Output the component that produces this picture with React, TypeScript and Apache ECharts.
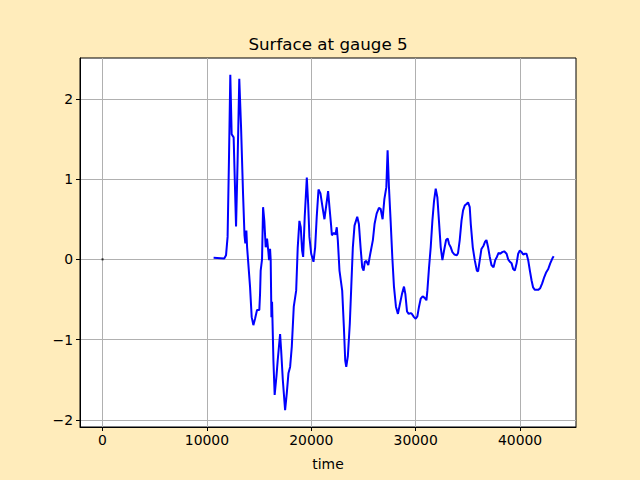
import React, { useEffect, useRef } from "react";
import * as echarts from "echarts";

const times: number[] = [
  10640, 11660, 11830, 11980, 12110, 12240, 12370, 12560, 12790, 12940,
  13100, 13270, 13460, 13600, 13680, 13780, 13850, 14130, 14290, 14450,
  14610, 14800, 15020, 15090, 15150, 15280, 15380, 15500, 15630, 15760,
  15890, 15950, 16050, 16110, 16180, 16240, 16370, 16490, 16660, 16780,
  17010, 17110, 17270, 17490, 17650, 17810, 17970, 18130, 18320, 18550,
  18700, 18860, 18990, 19120, 19220, 19370, 19570, 19700, 19820, 19990,
  20210, 20370, 20520, 20690, 20880, 21100, 21260, 21610, 21740, 21900,
  21970, 22160, 22320, 22440, 22540, 22700, 22960, 23120, 23250, 23350,
  23500, 23690, 23830, 23980, 24140, 24400, 24560, 24720, 24880, 25010,
  25130, 25270, 25460, 25650, 25900, 26060, 26260, 26480, 26640, 26830,
  27000, 27190, 27310, 27440, 27600, 27760, 27920, 28110, 28300, 28500,
  28690, 28880, 29010, 29170, 29330, 29520, 29640, 29840, 30000, 30160,
  30320, 30480, 30670, 30860, 31030, 31120, 31280, 31440, 31600, 31760,
  31920, 32080, 32230, 32400, 32560, 32720, 32910, 33070, 33200, 33360,
  33520, 33720, 33940, 34060, 34220, 34390, 34540, 34700, 34870, 35020,
  35180, 35280, 35470, 35660, 35860, 35980, 36140, 36300, 36500, 36650,
  36780, 36940, 37100, 37260, 37460, 37620, 37780, 37940, 38100, 38290,
  38480, 38710, 38860, 39020, 39190, 39340, 39500, 39670, 39820, 39980,
  40150, 40300, 40460, 40620, 40780, 40940, 41100, 41250, 41420, 41580,
  41740, 41930, 42120, 42320, 42510, 42700, 42890, 43090, 43220,
];

const surface: number[] = [
  0.02, 0.01, 0.05, 0.28, 1.23, 2.3, 1.56, 1.52, 0.41, 1.23,
  2.25, 1.65, 0.82, 0.3, 0.2, 0.36, 0.15, -0.34, -0.72, -0.82,
  -0.74, -0.63, -0.63, -0.43, -0.14, 0.0, 0.65, 0.48, 0.15, 0.26,
  0.09, -0.01, 0.13, -0.01, -0.72, -0.53, -1.26, -1.69, -1.46, -1.26,
  -0.93, -1.13, -1.5, -1.88, -1.67, -1.42, -1.34, -1.09, -0.59, -0.39,
  0.15, 0.48, 0.4, 0.11, 0.03, 0.53, 1.02, 0.69, 0.28, 0.07,
  -0.03, 0.15, 0.53, 0.87, 0.82, 0.63, 0.5, 0.85, 0.65, 0.42,
  0.3, 0.33, 0.31, 0.4, 0.24, -0.14, -0.39, -0.84, -1.26, -1.34,
  -1.21, -0.8, -0.34, 0.15, 0.42, 0.53, 0.44, 0.15, -0.1, -0.14,
  -0.03, -0.02, -0.07, 0.07, 0.24, 0.44, 0.57, 0.64, 0.63, 0.5,
  0.75, 0.9, 1.36, 0.9, 0.48, 0.03, -0.34, -0.59, -0.68, -0.55,
  -0.43, -0.34, -0.43, -0.65, -0.68, -0.67, -0.68, -0.72, -0.74, -0.71,
  -0.59, -0.49, -0.46, -0.48, -0.51, -0.39, -0.1, 0.15, 0.48, 0.73,
  0.88, 0.77, 0.48, 0.15, -0.01, 0.11, 0.24, 0.26, 0.19, 0.15,
  0.09, 0.06, 0.05, 0.08, 0.24, 0.48, 0.61, 0.67, 0.69, 0.71,
  0.65, 0.44, 0.15, -0.01, -0.14, -0.15, -0.01, 0.13, 0.17, 0.22,
  0.24, 0.15, 0.03, -0.07, -0.1, -0.01, 0.03, 0.08, 0.07, 0.09,
  0.1, 0.07, 0.0, -0.03, -0.05, -0.12, -0.14, -0.05, 0.07, 0.11,
  0.09, 0.06, 0.07, 0.07, -0.01, -0.14, -0.26, -0.35, -0.38, -0.38,
  -0.38, -0.36, -0.3, -0.22, -0.16, -0.12, -0.05, 0.01, 0.04,
];

const markerPoint: number[][] = [[0, 0]];

const xTicks: number[] = [0, 10000, 20000, 30000, 40000];
const yTicks: number[] = [-2, -1, 0, 1, 2];

const titleText = "Surface at gauge 5";
const xName = "time";

const FONT = "DejaVu Sans";

export default function App() {
  const ref = useRef<HTMLDivElement>(null);

  useEffect(() => {
    document.body.style.margin = "0";
    if (!ref.current) return;
    const chart = echarts.init(ref.current, null, { renderer: "svg" });
    const lineData = times.map((t, i) => [t, surface[i]]);
    const fmtY = (v: number) => (v < 0 ? "\u2212" + Math.abs(v) : String(v));

    chart.setOption({
      animation: false,
      backgroundColor: "#ffecbb",
      textStyle: { fontFamily: FONT },
      grid: {
        left: 80,
        top: 58,
        width: 496,
        height: 369,
        show: true,
        backgroundColor: "#ffffff",
        borderColor: "#000000",
        borderWidth: 1,
        containLabel: false,
      },
      graphic: [
        {
          type: "text",
          x: 328,
          y: 44,
          style: {
            text: titleText,
            fill: "#000",
            font: `16.7px '${FONT}'`,
            textAlign: "center",
            textVerticalAlign: "middle",
          },
        },
      ],
      xAxis: {
        type: "value",
        min: -2160,
        max: 45360,
        name: xName,
        nameLocation: "middle",
        nameGap: 30,
        nameTextStyle: { color: "#000", fontSize: 13.9, fontFamily: FONT },
        axisLine: { show: true, onZero: false, lineStyle: { color: "#000", width: 1 } },
        axisTick: {
          show: true,
          inside: false,
          length: 4,
          customValues: xTicks,
          lineStyle: { color: "#000", width: 1 },
        },
        axisLabel: {
          show: true,
          customValues: xTicks,
          color: "#000",
          fontSize: 13.9,
          fontFamily: FONT,
          margin: 6,
          formatter: (v: number) => String(v),
        },
        splitLine: { show: true, lineStyle: { color: "#b0b0b0", width: 1 } },
      },
      yAxis: {
        type: "value",
        min: -2.089,
        max: 2.509,
        axisLine: { show: true, onZero: false, lineStyle: { color: "#000", width: 1 } },
        axisTick: {
          show: true,
          inside: false,
          length: 4,
          customValues: yTicks,
          lineStyle: { color: "#000", width: 1 },
        },
        axisLabel: {
          show: true,
          customValues: yTicks,
          color: "#000",
          fontSize: 13.9,
          fontFamily: FONT,
          margin: 7,
          formatter: fmtY,
        },
        splitLine: { show: true, lineStyle: { color: "#b0b0b0", width: 1 } },
      },
      series: [
        {
          type: "scatter",
          data: markerPoint,
          symbol: "rect",
          symbolSize: 2,
          itemStyle: { color: "#000" },
          z: 3,
        },
        {
          type: "line",
          data: lineData,
          showSymbol: false,
          smooth: false,
          lineStyle: { color: "#0000ff", width: 2 },
          z: 4,
        },
      ],
    });

    return () => {
      chart.dispose();
    };
  }, []);

  return <div ref={ref} style={{ width: 640, height: 480 }} />;
}
